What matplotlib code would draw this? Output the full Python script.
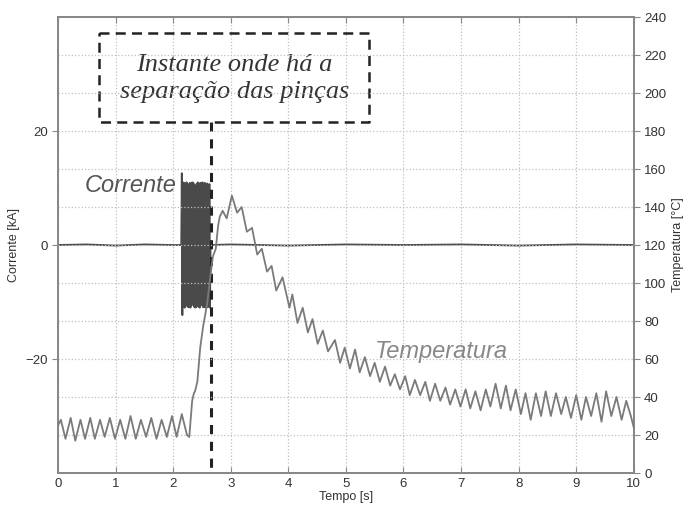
import numpy as np
import matplotlib.pyplot as plt

# corrente [kA]
t_cur = [0.0, 0.5, 1.0, 1.5, 2.0, 2.14,
         2.15, 2.16, 2.17, 2.18, 2.19, 2.20, 2.21, 2.22, 2.23, 2.24,
         2.25, 2.26, 2.27, 2.28, 2.29, 2.30, 2.31, 2.32, 2.33, 2.34,
         2.35, 2.36, 2.37, 2.38, 2.39, 2.40, 2.41, 2.42, 2.43, 2.44,
         2.45, 2.46, 2.47, 2.48, 2.49, 2.50, 2.51, 2.52, 2.53, 2.54,
         2.55, 2.56, 2.57, 2.58, 2.59, 2.60, 2.61, 2.62, 2.63, 2.64,
         2.65, 3.0, 4.0, 5.0, 6.0, 7.0, 8.0, 9.0, 10.0]
corrente = [0.0, 0.1, -0.1, 0.1, 0.0, 0.0,
            12.6, -12.3, 11.0, -10.8, 10.9, -11.0, 10.6, -8.0, 11.0, -10.7,
            10.8, -10.9, 7.5, -10.8, 10.9, -11.0, 10.7, -10.6, 11.0, -6.5,
            10.9, -10.8, 10.6, -11.0, 9.0, -10.9, 10.8, -10.7, 11.0, -10.8,
            7.0, -11.0, 10.9, -10.6, 10.8, -8.5, 11.0, -10.9, 10.7, -10.8,
            10.9, -11.0, 8.0, -10.7, 10.8, -10.9, 10.6, -10.8, 10.7, -11.0,
            0.0, 0.1, -0.1, 0.1, 0.0, 0.1, -0.1, 0.1, 0.0]

# temperatura [°C]
t_temp = [0.00, 0.05, 0.13, 0.22, 0.30, 0.39, 0.47, 0.56, 0.64, 0.73,
          0.81, 0.90, 0.99, 1.08, 1.17, 1.26, 1.35, 1.44, 1.53, 1.62,
          1.71, 1.80, 1.89, 1.98, 2.06, 2.15, 2.24, 2.28,
          2.33, 2.36, 2.38, 2.42, 2.47, 2.52, 2.59, 2.64, 2.69, 2.74,
          2.78, 2.81, 2.86, 2.93, 3.02, 3.11, 3.19, 3.28, 3.37, 3.46,
          3.54, 3.63, 3.71, 3.79, 3.90, 4.02, 4.07, 4.16, 4.25, 4.34,
          4.42, 4.51, 4.60, 4.69, 4.81, 4.90, 4.98, 5.07, 5.16, 5.24,
          5.33, 5.42, 5.50, 5.59, 5.68, 5.77, 5.85, 5.94, 6.03, 6.11,
          6.20, 6.29, 6.38, 6.46, 6.55, 6.64, 6.73, 6.81, 6.90, 6.99,
          7.08, 7.16, 7.25, 7.34, 7.43, 7.51, 7.60, 7.69, 7.78, 7.86,
          7.95, 8.04, 8.12, 8.21, 8.30, 8.39, 8.47, 8.56, 8.65, 8.74,
          8.82, 8.91, 9.00, 9.09, 9.17, 9.26, 9.35, 9.44, 9.52, 9.61,
          9.70, 9.79, 9.87, 9.95, 10.0]
temperatura = [25, 28, 18, 29, 17, 28, 18, 29, 18, 28,
               19, 29, 18, 28, 18, 30, 18, 28, 19, 29,
               18, 28, 19, 30, 19, 31, 20, 19,
               38, 42, 43, 48, 66, 77, 89, 102, 114, 118,
               130, 135, 138, 134, 146, 137, 140, 127, 129, 115,
               118, 106, 109, 96, 103, 87, 94, 79, 87, 74,
               81, 68, 75, 64, 70, 58, 66, 55, 65, 53,
               61, 51, 58, 48, 56, 46, 52, 44, 51, 41,
               49, 41, 48, 38, 47, 38, 45, 36, 44, 35,
               44, 34, 43, 33, 44, 35, 47, 34, 46, 33,
               44, 31, 42, 28, 42, 30, 43, 30, 42, 31,
               40, 29, 41, 28, 40, 30, 42, 27, 43, 30,
               40, 28, 38, 30, 24]

x_ticks = [0, 1, 2, 3, 4, 5, 6, 7, 8, 9, 10]
y_ticks_cur = [-20, 0, 20]
y_ticks_temp = [0, 20, 40, 60, 80, 100, 120, 140, 160, 180, 200, 220, 240]

plt.rcParams['font.family'] = ['Liberation Sans', 'DejaVu Sans']
fig = plt.figure(figsize=(6.89, 5.09), dpi=100)
ax = fig.add_axes([0.0842, 0.0707, 0.8356, 0.8959])
ax2 = ax.twinx()

ax.plot(t_cur, corrente, color='#4a4a4a', lw=1.3, zorder=3)
ax2.plot(t_temp, temperatura, color='#7a7a7a', lw=1.3, zorder=3)

ax.set_xlim(0, 10)
ax.set_ylim(-40, 40)
ax2.set_ylim(0, 240)
ax.set_xticks(x_ticks)
ax.set_yticks(y_ticks_cur)
ax2.set_yticks(y_ticks_temp)

# grid: vertical from x, horizontal from the temperature axis
ax.grid(True, axis='x', linestyle=':', color='#c0c0c0', lw=0.9)
ax2.grid(True, axis='y', linestyle=':', color='#c0c0c0', lw=0.9)
ax.set_axisbelow(True)

for a in (ax, ax2):
    for s in a.spines.values():
        s.set_color('#888888')
        s.set_linewidth(1.4)
ax.tick_params(axis='x', direction='in', top=True, length=4, color='#888888',
               labelsize=9.5, labelcolor='#333333')
ax.tick_params(axis='y', direction='out', length=4, color='#888888',
               labelsize=9.5, labelcolor='#333333')
ax2.tick_params(axis='y', direction='out', length=4, color='#888888',
                labelsize=9.5, labelcolor='#333333')

ax.set_xlabel('Tempo [s]', fontsize=9, color='#333333', labelpad=1)
ax.set_ylabel('Corrente [kA]', fontsize=9, color='#333333', labelpad=4)
ax2.set_ylabel('Temperatura [°C]', fontsize=9, color='#333333', labelpad=4)

# annotation box and separation instant
box_x = [0.71, 5.40, 5.40, 0.71, 0.71]
box_y = [37.2, 37.2, 21.6, 21.6, 37.2]
ax.plot(box_x, box_y, color='#222222', lw=1.8, ls=(0, (4, 2.5)), zorder=4)
ax.plot([2.66, 2.66], [21.6, -40], color='#222222', lw=2.2, ls=(0, (3, 2.5)),
        zorder=5, clip_on=False)
ax.text(3.07, 29.2, 'Instante onde há a\nseparação das pinças',
        family='Liberation Serif', style='italic', fontsize=19,
        color='#333333', ha='center', va='center', linespacing=1.3)

ax.text(0.47, 10.4, 'Corrente', style='italic', fontsize=17,
        color='#555555', ha='left', va='center', zorder=6)
ax2.text(5.5, 63.7, 'Temperatura', style='italic', fontsize=17,
         color='#888888', ha='left', va='center')

fig.savefig('out.png', dpi=100)
